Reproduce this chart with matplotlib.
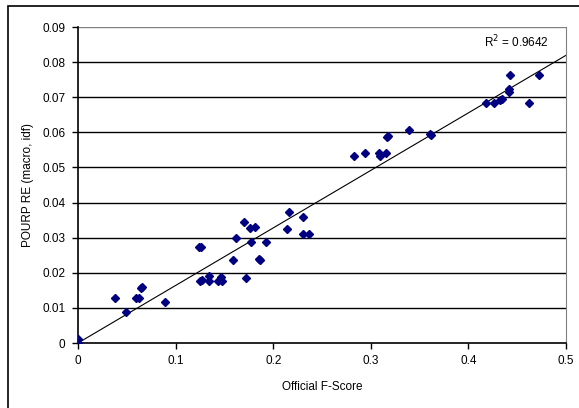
import matplotlib
matplotlib.use('Agg')
import matplotlib.pyplot as plt
from matplotlib.patches import Rectangle
import numpy as np

plt.rcParams['font.family'] = ['Liberation Sans', 'DejaVu Sans']

# official F-score vs POURPRE (macro, idf)
f_score = [0.0, 0.0, 0.038, 0.049, 0.059, 0.063, 0.065, 0.066, 0.089,
           0.124, 0.126, 0.125, 0.127, 0.134, 0.134, 0.143, 0.147, 0.148,
           0.159, 0.162, 0.170, 0.172, 0.176, 0.181, 0.177, 0.185, 0.186,
           0.193, 0.214, 0.216, 0.231, 0.231, 0.237,
           0.283, 0.294, 0.308, 0.309, 0.316, 0.317, 0.318, 0.339, 0.361, 0.362,
           0.418, 0.426, 0.432, 0.434, 0.442, 0.442, 0.443, 0.462, 0.472]
pourpre = [0.0012, 0.0, 0.0128, 0.0089, 0.0128, 0.0128, 0.0156, 0.016, 0.0118,
           0.0274, 0.0273, 0.0177, 0.0179, 0.0191, 0.0177, 0.0177, 0.0187, 0.0177,
           0.0236, 0.0298, 0.0344, 0.0184, 0.0327, 0.0331, 0.0287, 0.024, 0.0236,
           0.0287, 0.0325, 0.0374, 0.0358, 0.0311, 0.0311,
           0.0533, 0.054, 0.054, 0.0533, 0.054, 0.0588, 0.059, 0.0607, 0.0595, 0.0591,
           0.0683, 0.0683, 0.0692, 0.0695, 0.0724, 0.0716, 0.0763, 0.0683, 0.0763]
r2_label = 'R$^2$ = 0.9642'

fig = plt.figure(figsize=(5.79, 4.08), dpi=100)
ax = fig.add_axes([78/579, 65/408, 488/579, 316/408])

# outer chart border (only left and top visible)
fig.patches.append(Rectangle((8/579, -0.5), 2, 0.5 + 1 - 6/408, transform=fig.transFigure,
                             fill=False, edgecolor='black', linewidth=1.2))

for yv in np.arange(0.01, 0.085, 0.01):
    ax.axhline(yv, color='black', linewidth=1.0, zorder=1)
ax.axhline(0.09, color='#808080', linewidth=1.0, zorder=1)

# linear trend line through the origin
x_arr = np.array(f_score)
y_arr = np.array(pourpre)
slope = (x_arr * y_arr).sum() / (x_arr * x_arr).sum()
xs = np.array([0, 0.5])
ax.plot(xs, slope * xs, color='black', linewidth=0.8, zorder=2)

ax.plot(f_score, pourpre, linestyle='none', marker='D', markersize=4.0,
        color='#000080', zorder=3)

ax.text(0.4826, 0.0858, r2_label, ha='right', va='center', fontsize=8.5)

ax.set_xlim(0, 0.5)
ax.set_ylim(0, 0.09)
ax.set_xticks([0, 0.1, 0.2, 0.3, 0.4, 0.5])
ax.set_xticklabels(['0', '0.1', '0.2', '0.3', '0.4', '0.5'])
ax.set_yticks(np.arange(0, 0.091, 0.01))
ax.set_yticklabels(['0'] + ['%.2f' % v for v in np.arange(0.01, 0.091, 0.01)])
ax.tick_params(axis='both', labelsize=8.5, length=4, width=1, color='black', pad=5)

ax.spines['left'].set_color('black')
ax.spines['bottom'].set_color('black')
ax.spines['left'].set_linewidth(1.2)
ax.spines['bottom'].set_linewidth(1.2)
ax.spines['right'].set_color('#808080')
ax.spines['top'].set_visible(False)

ax.set_xlabel('Official F-Score', fontsize=8.5, labelpad=10)
ax.set_ylabel('POURP RE (macro, idf)', fontsize=8.5, labelpad=6)

fig.savefig('out.png', dpi=100)
